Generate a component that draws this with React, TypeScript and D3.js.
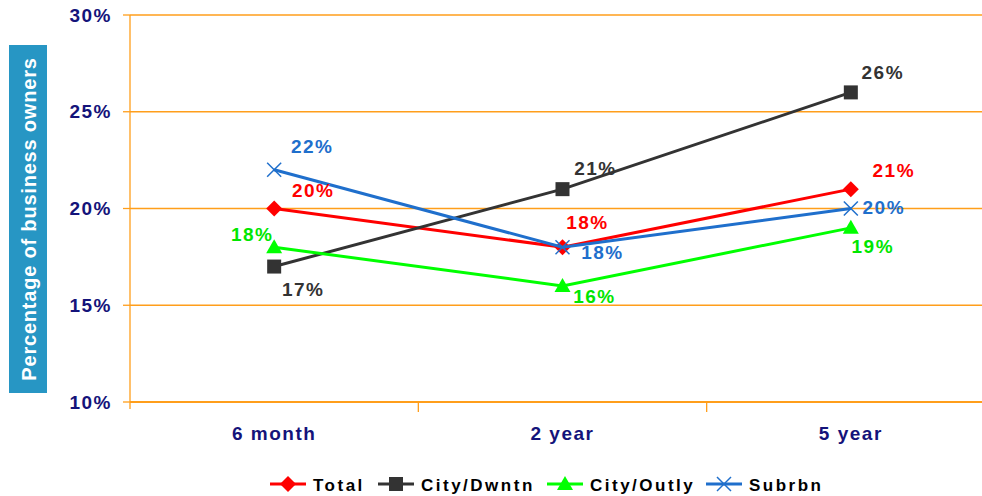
import React from "react";
import * as d3 from "d3";

const categories = ["6 month", "2 year", "5 year"];
const yTicks = [10, 15, 20, 25, 30];
const seriesNames = ["Total", "City/Dwntn", "City/Outly", "Subrbn"];
const totalValues = [20, 18, 21];
const dwntnValues = [17, 21, 26];
const outlyValues = [18, 16, 19];
const subrbnValues = [22, 18, 20];

// label offsets (px) relative to each point
const totalOffsets = [[39, -18], [25, -25], [43, -19]];
const dwntnOffsets = [[29, 23], [33, -21], [32, -20]];
const outlyOffsets = [[-22, -13], [32, 11], [22, 19]];
const subrbnOffsets = [[38, -23], [40, 5], [33, -1]];

const W = 982;
const H = 496;
const left = 130;
const right = 995;
const top = 15;
const bottom = 402;
const orange = "#FF9E1B";
const navy = "#14137A";
const font = "'Liberation Sans', Arial, sans-serif";

const series = [
  { name: seriesNames[0], values: totalValues, offsets: totalOffsets, color: "#FF0000", label: "#FF0000", marker: "diamond" },
  { name: seriesNames[1], values: dwntnValues, offsets: dwntnOffsets, color: "#333333", label: "#333333", marker: "square" },
  { name: seriesNames[2], values: outlyValues, offsets: outlyOffsets, color: "#00FF00", label: "#00E600", marker: "triangle" },
  { name: seriesNames[3], values: subrbnValues, offsets: subrbnOffsets, color: "#1F6FCC", label: "#1F6FCC", marker: "x" },
];

function Marker({ type, x, y, color }: { type: string; x: number; y: number; color: string }) {
  if (type === "diamond") {
    return <path d={`M${x},${y - 8}L${x + 8},${y}L${x},${y + 8}L${x - 8},${y}Z`} fill={color} />;
  }
  if (type === "square") {
    return <rect x={x - 7} y={y - 7} width={14} height={14} fill={color} />;
  }
  if (type === "triangle") {
    return <path d={`M${x},${y - 8}L${x + 8},${y + 6}L${x - 8},${y + 6}Z`} fill={color} />;
  }
  return (
    <g stroke={color} strokeWidth={1.5}>
      <line x1={x - 7} y1={y - 7} x2={x + 7} y2={y + 7} />
      <line x1={x - 7} y1={y + 7} x2={x + 7} y2={y - 7} />
    </g>
  );
}

export default function App() {
  const x = d3.scaleBand<string>().domain(categories).range([left, right]);
  const y = d3.scaleLinear().domain([10, 30]).range([bottom, top]);
  const cx = (c: string) => (x(c) as number) + x.bandwidth() / 2;
  const line = d3
    .line<number>()
    .x((_, i) => cx(categories[i]))
    .y((v) => y(v));

  const legendItems = [
    { lx: 270, tx: 313 },
    { lx: 378, tx: 421 },
    { lx: 547, tx: 590 },
    { lx: 706, tx: 749 },
  ];

  return (
    <svg
      width={W}
      height={H}
      style={{ position: "absolute", left: 0, top: 0, background: "#fff" }}
      fontFamily={font}
    >
      {/* gridlines */}
      {yTicks.map((t) => (
        <g key={t}>
          <line x1={left} x2={right} y1={y(t)} y2={y(t)} stroke={orange} strokeWidth={t === 10 ? 2 : 1.3} />
          <line x1={left - 7} x2={left} y1={y(t)} y2={y(t)} stroke={orange} strokeWidth={1.3} />
          <text x={112} y={y(t)} textAnchor="end" dominantBaseline="central" fontSize={19} fontWeight="bold" fill={navy} letterSpacing={1.5}>
            {t}%
          </text>
        </g>
      ))}
      <line x1={left} x2={left} y1={top} y2={bottom + 7} stroke={orange} strokeWidth={1.3} />
      {categories.map((c, i) =>
        i > 0 ? (
          <line key={c} x1={x(c)} x2={x(c)} y1={bottom} y2={bottom + 10} stroke={orange} strokeWidth={1.3} />
        ) : null
      )}
      {categories.map((c) => (
        <text key={c} x={cx(c)} y={433} textAnchor="middle" dominantBaseline="central" fontSize={19} fontWeight="bold" fill={navy} letterSpacing={1.5}>
          {c}
        </text>
      ))}

      {/* y axis title */}
      <rect x={9} y={45} width={38} height={348} fill="#2796C4" />
      <text
        transform={`translate(29,219) rotate(-90)`}
        textAnchor="middle"
        dominantBaseline="central"
        fontSize={20}
        fontWeight="bold"
        fill="#fff"
        letterSpacing={0.8}
      >
        Percentage of business owners
      </text>

      {/* series */}
      {series.map((s) => (
        <g key={s.name}>
          <path d={line(s.values) || ""} fill="none" stroke={s.color} strokeWidth={3} />
          {s.values.map((v, i) => (
            <Marker key={i} type={s.marker} x={cx(categories[i])} y={y(v)} color={s.color} />
          ))}
        </g>
      ))}
      {series.map((s) =>
        s.values.map((v, i) => (
          <text
            key={s.name + i}
            x={cx(categories[i]) + s.offsets[i][0]}
            y={y(v) + s.offsets[i][1]}
            textAnchor="middle"
            dominantBaseline="central"
            fontSize={19}
            fontWeight="bold"
            fill={s.label}
            letterSpacing={1.5}
          >
            {v}%
          </text>
        ))
      )}

      {/* legend */}
      {series.map((s, i) => (
        <g key={s.name}>
          <line x1={legendItems[i].lx} x2={legendItems[i].lx + 36} y1={484} y2={484} stroke={s.color} strokeWidth={3} />
          <Marker type={s.marker} x={legendItems[i].lx + 18} y={484} color={s.color} />
          <text x={legendItems[i].tx} y={485} dominantBaseline="central" fontSize={17} fontWeight="bold" fill="#000" letterSpacing={2.5}>
            {s.name}
          </text>
        </g>
      ))}
    </svg>
  );
}
